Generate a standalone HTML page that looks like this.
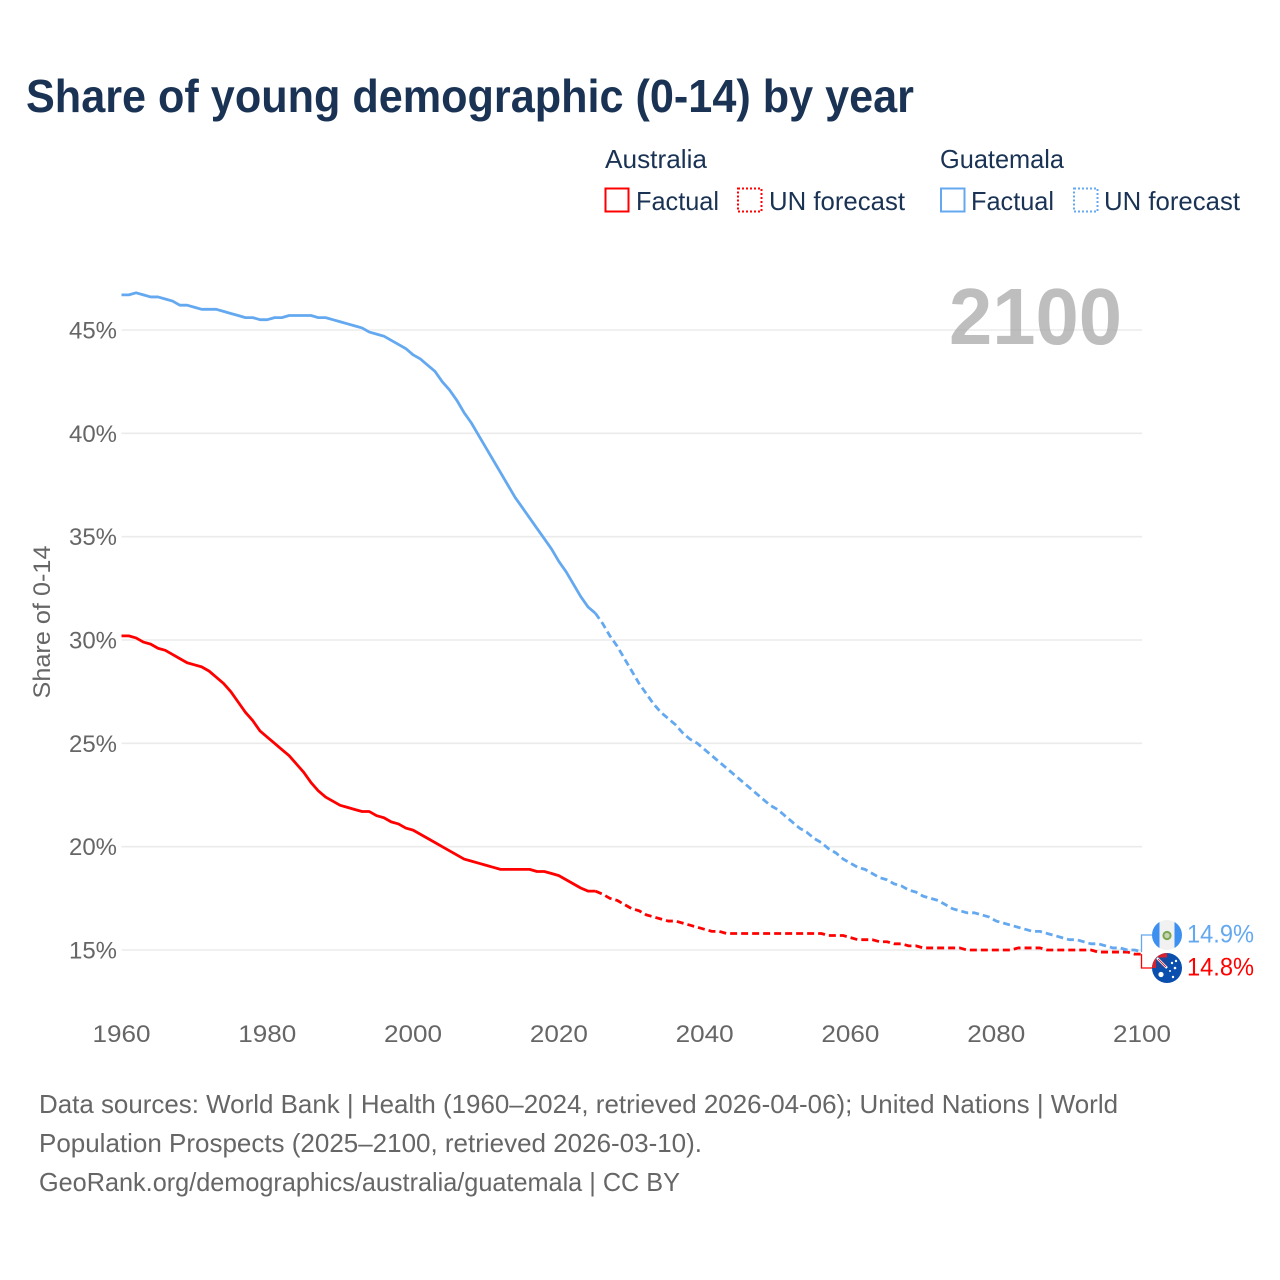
<!DOCTYPE html>
<html lang="en">
<head>
<meta charset="utf-8">
<title>Share of young demographic (0-14) by year</title>
<style>
html,body{margin:0;padding:0;background:#fff;width:1280px;height:1280px;overflow:hidden}
svg{display:block;font-family:"Liberation Sans",sans-serif}
</style>
</head>
<body>
<svg id="chart" xmlns="http://www.w3.org/2000/svg" width="1280" height="1280" viewBox="0 0 1280 1280">
  <text x="26" y="112" font-size="46" font-weight="700" fill="#1a3354" textLength="888" lengthAdjust="spacingAndGlyphs">Share of young demographic (0-14) by year</text>

  <g font-size="26" fill="#1a3354">
    <text x="605" y="168" textLength="102" lengthAdjust="spacingAndGlyphs">Australia</text>
    <rect x="605.5" y="188.5" width="23" height="23" fill="none" stroke="#ff0000" stroke-width="2"/>
    <text x="636" y="210" textLength="83" lengthAdjust="spacingAndGlyphs">Factual</text>
    <rect x="738" y="188.5" width="23.5" height="23" fill="none" stroke="#ff0000" stroke-width="2" stroke-dasharray="2 2"/>
    <text x="769" y="210" textLength="136" lengthAdjust="spacingAndGlyphs">UN forecast</text>
    <text x="940" y="168" textLength="124" lengthAdjust="spacingAndGlyphs">Guatemala</text>
    <rect x="941" y="188.5" width="23.5" height="23" fill="none" stroke="#64a9f0" stroke-width="2"/>
    <text x="971" y="210" textLength="83" lengthAdjust="spacingAndGlyphs">Factual</text>
    <rect x="1074" y="188.5" width="23.5" height="23" fill="none" stroke="#64a9f0" stroke-width="2" stroke-dasharray="2 2"/>
    <text x="1104" y="210" textLength="136" lengthAdjust="spacingAndGlyphs">UN forecast</text>
  </g>

  <g id="grid"></g>
  <text x="949" y="344" font-size="80" font-weight="700" fill="#a8a8a8" fill-opacity="0.75" textLength="173" lengthAdjust="spacingAndGlyphs">2100</text>
  <g id="yticks" font-size="24" fill="#666666"></g>
  <g id="xticks" font-size="24" fill="#666666"></g>
  <text transform="translate(50,622) rotate(-90)" text-anchor="middle" font-size="24" fill="#666666" textLength="153" lengthAdjust="spacingAndGlyphs">Share of 0-14</text>

  <g id="series"></g>

  <g id="endmarks"></g>

  <defs>
    <clipPath id="clip-gt"><circle cx="1167" cy="935" r="15"/></clipPath>
    <clipPath id="clip-au"><circle cx="1167" cy="968" r="15"/></clipPath>
  </defs>
  <g clip-path="url(#clip-gt)">
    <rect x="1152" y="920" width="30" height="30" fill="#f1f1f1"/>
    <rect x="1152" y="920" width="7.5" height="30" fill="#3d8ff0"/>
    <rect x="1174.5" y="920" width="7.5" height="30" fill="#3d8ff0"/>
    <circle cx="1167" cy="935.5" r="3.6" fill="#c9d2b4" stroke="#7aa84f" stroke-width="2"/>
  </g>
  <g clip-path="url(#clip-au)">
    <rect x="1152" y="953" width="30" height="30" fill="#0a4fae"/>
    <rect x="1152" y="953" width="15" height="15" fill="#d8232f"/>
    <rect x="1156" y="957.5" width="11" height="10.5" fill="#1b4a9c"/>
    <path d="M1157 958L1167 968" stroke="#ffffff" stroke-width="2.4"/>
    <path d="M1158 959L1166 967" stroke="#d8232f" stroke-width="0.9"/>
    <circle cx="1161" cy="974.5" r="2.6" fill="#fff"/>
    <circle cx="1172" cy="963" r="1.2" fill="#fff"/>
    <circle cx="1176" cy="961" r="1.2" fill="#fff"/>
    <circle cx="1175" cy="968" r="1.3" fill="#fff"/>
    <circle cx="1170" cy="971" r="1" fill="#fff"/>
    <circle cx="1173" cy="977" r="1.2" fill="#fff"/>
  </g>

  <g font-size="26" fill="#666666">
    <text x="39" y="1113" textLength="1079" lengthAdjust="spacingAndGlyphs">Data sources: World Bank | Health (1960–2024, retrieved 2026-04-06); United Nations | World</text>
    <text x="39" y="1152" textLength="663" lengthAdjust="spacingAndGlyphs">Population Prospects (2025–2100, retrieved 2026-03-10).</text>
    <text x="39" y="1191" textLength="641" lengthAdjust="spacingAndGlyphs">GeoRank.org/demographics/australia/guatemala | CC BY</text>
  </g>
</svg>
<script>
const xTickYears = [1960, 1980, 2000, 2020, 2040, 2060, 2080, 2100];
const yTickValues = [15, 20, 25, 30, 35, 40, 45];
const factualStartYear = 1960;
const forecastStartYear = 2025;

const australiaFactual = [30.2,30.2,30.1,29.9,29.8,29.6,29.5,29.3,29.1,28.9,28.8,28.7,28.5,28.2,27.9,27.5,27.0,26.5,26.1,25.6,25.3,25.0,24.7,24.4,24.0,23.6,23.1,22.7,22.4,22.2,22.0,21.9,21.8,21.7,21.7,21.5,21.4,21.2,21.1,20.9,20.8,20.6,20.4,20.2,20.0,19.8,19.6,19.4,19.3,19.2,19.1,19.0,18.9,18.9,18.9,18.9,18.9,18.8,18.8,18.7,18.6,18.4,18.2,18.0,17.85,17.85];
const australiaForecast = [17.85,17.7,17.5,17.4,17.2,17.0,16.9,16.7,16.6,16.5,16.4,16.4,16.3,16.2,16.1,16.0,15.9,15.9,15.8,15.8,15.8,15.8,15.8,15.8,15.8,15.8,15.8,15.8,15.8,15.8,15.8,15.8,15.7,15.7,15.7,15.6,15.5,15.5,15.5,15.4,15.4,15.3,15.3,15.2,15.2,15.1,15.1,15.1,15.1,15.1,15.1,15.0,15.0,15.0,15.0,15.0,15.0,15.0,15.1,15.1,15.1,15.1,15.0,15.0,15.0,15.0,15.0,15.0,15.0,14.9,14.9,14.9,14.9,14.9,14.8,14.8];
const guatemalaFactual = [46.7,46.7,46.8,46.7,46.6,46.6,46.5,46.4,46.2,46.2,46.1,46.0,46.0,46.0,45.9,45.8,45.7,45.6,45.6,45.5,45.5,45.6,45.6,45.7,45.7,45.7,45.7,45.6,45.6,45.5,45.4,45.3,45.2,45.1,44.9,44.8,44.7,44.5,44.3,44.1,43.8,43.6,43.3,43.0,42.5,42.1,41.6,41.0,40.5,39.9,39.3,38.7,38.1,37.5,36.9,36.4,35.9,35.4,34.9,34.4,33.8,33.3,32.7,32.1,31.6,31.3];
const guatemalaForecast = [31.3,30.8,30.2,29.7,29.1,28.5,27.9,27.4,26.9,26.5,26.2,25.9,25.5,25.2,25.0,24.7,24.4,24.1,23.8,23.5,23.2,22.9,22.6,22.3,22.0,21.8,21.5,21.2,20.9,20.7,20.4,20.2,19.9,19.7,19.4,19.2,19.0,18.9,18.7,18.5,18.4,18.2,18.1,17.9,17.8,17.6,17.5,17.4,17.2,17.0,16.9,16.8,16.8,16.7,16.6,16.4,16.3,16.2,16.1,16.0,15.9,15.9,15.8,15.7,15.6,15.5,15.5,15.4,15.3,15.3,15.2,15.1,15.1,15.0,15.0,14.9];
const australiaEndLabel = 14.8;
const guatemalaEndLabel = 14.9;

const SVG_NS = 'http://www.w3.org/2000/svg';
const plotLeft = 121.5, plotRight = 1142;
const xScale = year => plotLeft + (year - 1960) * (plotRight - plotLeft) / 140;
const yScale = value => 950 - (value - 15) * (950 - 330) / 30;

function make(tag, parent, attrs) {
  const el = document.createElementNS(SVG_NS, tag);
  Object.keys(attrs).forEach(k => el.setAttribute(k, attrs[k]));
  parent.appendChild(el);
  return el;
}

const grid = document.getElementById('grid');
const yticks = document.getElementById('yticks');
yTickValues.forEach(v => {
  const line = make('line', grid, {x1: plotLeft, x2: plotRight, y1: yScale(v), y2: yScale(v), stroke: '#ebebeb', 'stroke-width': 1.6});
  
  
  const t = make('text', yticks, {x: 117, y: yScale(v) + 8.5, 'text-anchor': 'end', textLength: 48, lengthAdjust: 'spacingAndGlyphs'});
  
  
  t.textContent = v + '%';
});

const xticks = document.getElementById('xticks');
xTickYears.forEach(y => {
  const t = make('text', xticks, {x: xScale(y), y: 1042, 'text-anchor': 'middle', textLength: 58, lengthAdjust: 'spacingAndGlyphs'});
  
  
  t.textContent = y;
});

function linePath(values, startYear) {
  return values.map((v, i) => (i ? 'L' : 'M') + xScale(startYear + i).toFixed(2) + ' ' + yScale(v).toFixed(2)).join('');
}

const series = document.getElementById('series');
function drawLine(values, startYear, color, dashed, name) {
  const p = make('path', series, {d: linePath(values, startYear), fill: 'none', stroke: color, 'stroke-width': 2.8, 'stroke-linejoin': 'round'});
  if (dashed) p.setAttribute('stroke-dasharray', '7 4');
  
  
}
const RED = '#ff0000', BLUE = '#64a9f0';
drawLine(australiaFactual, factualStartYear, RED, false, 'line-australia-factual');
drawLine(australiaForecast, forecastStartYear, RED, true, 'line-australia-forecast');
drawLine(guatemalaFactual, factualStartYear, BLUE, false, 'line-guatemala-factual');
drawLine(guatemalaForecast, forecastStartYear, BLUE, true, 'line-guatemala-forecast');

const endmarks = document.getElementById('endmarks');
function drawEnd(values, endValue, color, labelY, name) {
  const last = values[values.length - 1];
  const c = make('path', endmarks, {d: 'M1141.5 ' + yScale(last).toFixed(1) + 'V' + labelY + 'H1153', fill: 'none', stroke: color, 'stroke-width': 1.3});
  
  
  const t = make('text', endmarks, {x: 1187, y: labelY + 7.5, 'font-size': 25, fill: color, textLength: 67, lengthAdjust: 'spacingAndGlyphs'});
  
  
  t.textContent = endValue.toFixed(1) + '%';
}
drawEnd(australiaForecast, australiaEndLabel, RED, 968, 'australia');
drawEnd(guatemalaForecast, guatemalaEndLabel, BLUE, 935, 'guatemala');
</script>
</body>
</html>
